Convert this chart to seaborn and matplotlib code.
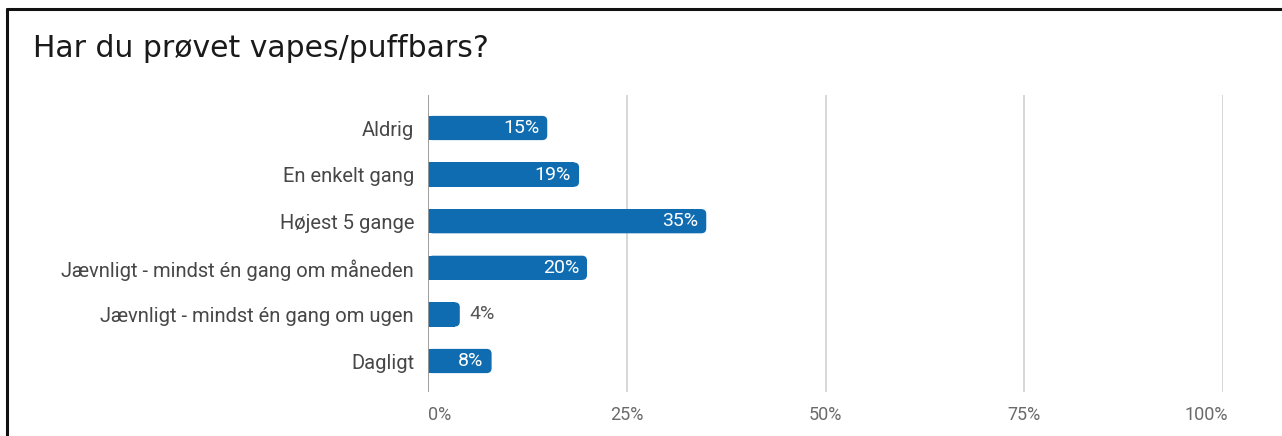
import matplotlib

matplotlib.use("Agg")
import matplotlib.pyplot as plt
import matplotlib.transforms as mtransforms
import numpy as np
import pandas as pd
import seaborn as sns
from matplotlib.lines import Line2D
from matplotlib.patches import FancyBboxPatch

categories = [
    "Aldrig",
    "En enkelt gang",
    "Højest 5 gange",
    "Jævnligt - mindst én gang om måneden",
    "Jævnligt - mindst én gang om ugen",
    "Dagligt",
]
shares = [0.15, 0.19, 0.35, 0.20, 0.04, 0.08]
tick_values = [0, 0.25, 0.5, 0.75, 1.0]
tick_labels = ["0%", "25%", "50%", "75%", "100%"]
title = "Har du prøvet vapes/puffbars?"

BLUE = "#0f6cb1"
W, H = 1282, 436

df = pd.DataFrame({"cat": categories, "share": shares})

sns.set_style("white")
plt.rcParams["font.family"] = ["Roboto", "DejaVu Sans"]

fig = plt.figure(figsize=(W / 100, H / 100), dpi=100, facecolor="white")
ax = fig.add_axes([428 / W, 44 / H, 795 / W, 297 / H])

sns.barplot(data=df, x="share", y="cat", color=BLUE, saturation=1, width=0.52,
            orient="h", ax=ax)

ax.set_xlim(0, 1)
ax.set_ylim(5 + 31 / 46.6, -33 / 46.6)

# rounded right ends
px_x = 1 / 795
px_y = 1 / 46.6
r = 5 * px_x
aspect = px_y / px_x
for p in list(ax.patches):
    x0, y0 = p.get_x(), p.get_y()
    w, h = p.get_width(), p.get_height()
    p.set_width(max(w - r, 0))
    p.set_edgecolor("none")
    ax.add_patch(FancyBboxPatch((x0, y0), w, h,
                                boxstyle=f"round,pad=0,rounding_size={r}",
                                mutation_aspect=aspect, facecolor=BLUE,
                                edgecolor="none", zorder=p.get_zorder()))

for i, v in enumerate(shares):
    lab = f"{v * 100:.0f}%"
    if v >= 0.06:
        ax.text(v - 8 * px_x, i, lab, ha="right", va="center", color="white",
                fontsize=14, zorder=5)
    else:
        ax.text(v + 10 * px_x, i, lab, ha="left", va="center", color="#555555",
                fontsize=14, zorder=5)

ax.set_xticks(tick_values)
ax.set_xticklabels(tick_labels)
ax.grid(axis="x", color="#d4d4d4", linewidth=1.3, zorder=0)
ax.set_axisbelow(True)
ax.axvline(0, color="#9a9a9a", linewidth=1.3, zorder=1)
for s in ax.spines.values():
    s.set_visible(False)
ax.tick_params(axis="x", length=0, pad=10, labelsize=13, labelcolor="#6a6a6a")
ax.tick_params(axis="y", length=0, pad=10, labelsize=14.5, labelcolor="#474747")
ax.set_xlabel("")
ax.set_ylabel("")

# first and last tick labels kept inside the plot width
xt = ax.get_xticklabels()
xt[0].set_horizontalalignment("left")
xt[-1].set_horizontalalignment("right")
xt[-1].set_transform(xt[-1].get_transform()
                     + mtransforms.ScaledTranslation(5 / 100, 0, fig.dpi_scale_trans))

fig.text(33 / W, 1 - 57 / H, title, fontsize=21.5, color="#1a1a1a",
         family=["DejaVu Sans"], ha="left", va="baseline")

# outer frame (left and top only)
fig.add_artist(Line2D([6.5 / W, 6.5 / W], [0, 1 - 9 / H], color="#111111",
                      linewidth=2.2, transform=fig.transFigure))
fig.add_artist(Line2D([6.5 / W, 1], [1 - 9 / H, 1 - 9 / H], color="#111111",
                      linewidth=2.2, transform=fig.transFigure))

fig.savefig("out.png", dpi=100, facecolor="white")
